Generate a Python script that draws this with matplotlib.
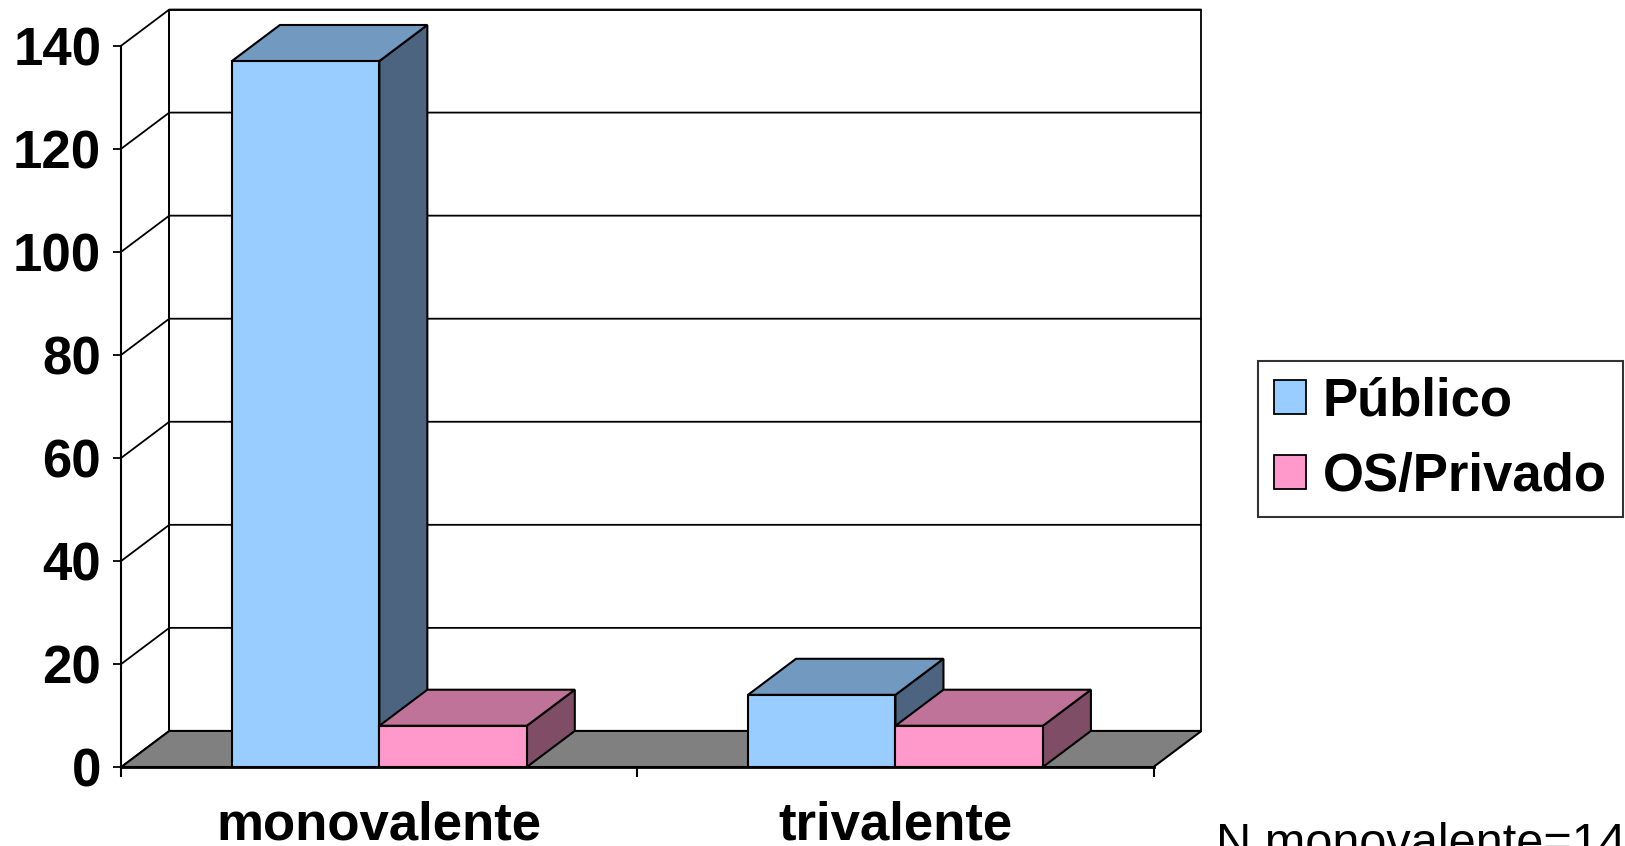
import matplotlib
matplotlib.use("Agg")
import matplotlib.pyplot as plt
from matplotlib.patches import Polygon, Patch

# ---- data ----
categories = ["monovalente", "trivalente"]
series_names = ["Público", "OS/Privado"]
publico = [137, 14]
privado = [8, 8]
yticks = [0, 20, 40, 60, 80, 100, 120, 140]
note = "N monovalente=145"

# ---- style ----
front_cols = ["#99CCFF", "#FF99CC"]
top_cols = ["#7299BF", "#BF7399"]
side_cols = ["#4D6480", "#804D66"]
floor_col = "#808080"
FONT = "Liberation Sans"

fig = plt.figure(figsize=(16.25, 8.46), dpi=100)
ax = fig.add_axes([121.3 / 1625, 79 / 846, 1032.2 / 1625, 721.4 / 846])
ax.patch.set_visible(False)

ncat = len(categories)
ymax = yticks[-1]
ax.set_xlim(0, ncat)
ax.set_ylim(0, ymax)

DX = 0.093   # depth offset in category units
DY = 7.0     # depth offset in value units

# back wall
ax.add_patch(Polygon([(DX, DY), (ncat + DX, DY), (ncat + DX, ymax + DY), (DX, ymax + DY)],
                     closed=True, facecolor="white", edgecolor="black", lw=1.3,
                     clip_on=False, zorder=1))
for v in yticks:
    ax.plot([0, DX, ncat + DX], [v, v + DY, v + DY], color="black", lw=1.3,
            clip_on=False, zorder=1.5, solid_capstyle="butt")
ax.plot([DX, DX], [DY, ymax + DY], color="black", lw=1.3, clip_on=False, zorder=1.5)

# floor
ax.add_patch(Polygon([(0, 0), (ncat, 0), (ncat + DX, DY), (DX, DY)], closed=True,
                     facecolor=floor_col, edgecolor="black", lw=1.5,
                     clip_on=False, zorder=2))

# bars
w = 1 / 3.5
off = (1 - 2 * w) / 2
series = [publico, privado]
z = 3
for i in range(ncat):
    for j, vals in enumerate(series):
        v = vals[i]
        x0 = i + off + j * w
        x1 = x0 + w
        side = Polygon([(x1, 0), (x1 + DX, DY), (x1 + DX, v + DY), (x1, v)], closed=True,
                       facecolor=side_cols[j], edgecolor="black", lw=1.5, clip_on=False, zorder=z)
        top = Polygon([(x0, v), (x1, v), (x1 + DX, v + DY), (x0 + DX, v + DY)], closed=True,
                      facecolor=top_cols[j], edgecolor="black", lw=1.5, clip_on=False, zorder=z)
        ax.add_patch(side)
        ax.add_patch(top)
        ax.bar(x0, v, width=w, align="edge", color=front_cols[j], edgecolor="black",
               lw=1.5, clip_on=False, zorder=z + 0.5)
        z += 1

# axes styling
for s in ["top", "right"]:
    ax.spines[s].set_visible(False)
ax.spines["left"].set_linewidth(1.5)
ax.spines["bottom"].set_linewidth(2.0)
ax.spines["left"].set_zorder(20)
ax.spines["bottom"].set_zorder(20)

ax.set_yticks(yticks)
ax.set_yticklabels([str(t) for t in yticks], fontfamily=FONT, fontweight="bold", fontsize=38)
ax.tick_params(axis="y", direction="out", length=5.5, width=1.3, pad=9)

ax.set_xticks(range(ncat + 1))
ax.set_xticklabels([""] * (ncat + 1))
ax.tick_params(axis="x", which="major", direction="out", length=7.5, width=1.5)
ax.set_xticks([i + 0.5 for i in range(ncat)], minor=True)
ax.set_xticklabels(categories, minor=True, fontfamily=FONT, fontweight="bold", fontsize=38)
ax.tick_params(axis="x", which="minor", length=0, pad=24)

# legend
handles = [Patch(facecolor=front_cols[k], edgecolor="black", lw=1.3) for k in range(2)]
leg = fig.legend(handles, series_names, loc="upper left",
                 bbox_to_anchor=(1258 / 1625, 1 - 361 / 846), borderaxespad=0,
                 prop={"family": FONT, "weight": "bold", "size": 38},
                 frameon=True, fancybox=False, edgecolor="black",
                 handlelength=0.6, handleheight=0.6, handletextpad=0.33,
                 labelspacing=0.47, borderpad=0.3)
leg.get_frame().set_linewidth(1.5)

fig.text(1216 / 1625, -11 / 846, note, fontfamily=FONT, fontsize=35, ha="left", va="baseline")

fig.savefig("out.png", dpi=100)
